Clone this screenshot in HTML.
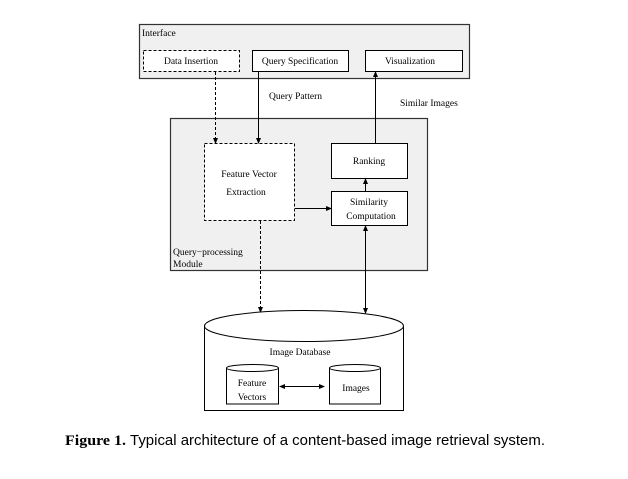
<!DOCTYPE html>
<html><head><style>body{margin:0;background:#fff}</style></head><body>
<svg width="628" height="474" xmlns="http://www.w3.org/2000/svg" font-family="Liberation Serif, serif" font-size="9.5">
<defs><marker id="a" markerWidth="6" markerHeight="6" refX="5" refY="3" orient="auto"><path d="M0,0.5 L6,3 L0,5.5z" fill="#000"/></marker>
<marker id="b" markerWidth="6" markerHeight="6" refX="1" refY="3" orient="auto"><path d="M6,0.5 L0,3 L6,5.5z" fill="#000"/></marker></defs>
<rect x="139.5" y="24.5" width="330" height="54" fill="#f0f0f0" stroke="#333" stroke-width="1.2"/>
<text x="142" y="36">Interface</text>
<rect x="143.5" y="50.5" width="96" height="21" fill="#fff" stroke="#000" stroke-dasharray="3,2"/>
<text x="191" y="64" text-anchor="middle">Data Insertion</text>
<rect x="252.5" y="50.5" width="96" height="21" fill="#fff" stroke="#000"/>
<text x="300" y="64" text-anchor="middle">Query Specification</text>
<rect x="365.5" y="50.5" width="97" height="21" fill="#fff" stroke="#000"/>
<text x="410" y="64" text-anchor="middle">Visualization</text>
<text x="269" y="99">Query Pattern</text>
<text x="400" y="106">Similar Images</text>
<rect x="170.5" y="118.5" width="257" height="152" fill="#f0f0f0" stroke="#333" stroke-width="1.2"/>
<text x="173" y="255">Query−processing</text>
<text x="173" y="267">Module</text>
<rect x="204.5" y="143.5" width="90" height="77" fill="#fff" stroke="#000" stroke-dasharray="3,2"/>
<text x="249" y="177" text-anchor="middle">Feature Vector</text>
<text x="246" y="195" text-anchor="middle">Extraction</text>
<rect x="331.5" y="143.5" width="76" height="35" fill="#fff" stroke="#000"/>
<text x="369" y="164" text-anchor="middle">Ranking</text>
<rect x="331.5" y="191.5" width="76" height="34" fill="#fff" stroke="#000"/>
<text x="369" y="205" text-anchor="middle">Similarity</text>
<text x="371" y="219" text-anchor="middle">Computation</text>
<line x1="215.5" y1="72" x2="215.5" y2="143" stroke="#000" stroke-dasharray="3,2" marker-end="url(#a)"/>
<line x1="258.5" y1="72" x2="258.5" y2="143" stroke="#000" marker-end="url(#a)"/>
<line x1="375.5" y1="143" x2="375.5" y2="72" stroke="#000" marker-end="url(#a)"/>
<line x1="295" y1="208.5" x2="331" y2="208.5" stroke="#000" marker-end="url(#a)"/>
<line x1="365.5" y1="191" x2="365.5" y2="179" stroke="#000" marker-end="url(#a)"/>
<line x1="260.5" y1="221" x2="260.5" y2="312" stroke="#000" stroke-dasharray="3,2" marker-end="url(#a)"/>
<line x1="365.5" y1="226" x2="365.5" y2="313" stroke="#000" marker-start="url(#b)" marker-end="url(#a)"/>
<path d="M204.5,326 L204.5,410.5 L403.5,410.5 L403.5,326" fill="#fff" stroke="#000"/>
<ellipse cx="304" cy="326" rx="99.5" ry="15.5" fill="#fff" stroke="#000"/>
<text x="300" y="355" text-anchor="middle">Image Database</text>
<path d="M226.5,368 L226.5,404 L278.5,404 L278.5,368" fill="#fff" stroke="#000"/>
<ellipse cx="252.5" cy="368" rx="26" ry="3.5" fill="#fff" stroke="#000"/>
<text x="252" y="386" text-anchor="middle">Feature</text>
<text x="252" y="400" text-anchor="middle">Vectors</text>
<path d="M329.5,368 L329.5,404 L380.5,404 L380.5,368" fill="#fff" stroke="#000"/>
<ellipse cx="355" cy="368" rx="25.5" ry="3.5" fill="#fff" stroke="#000"/>
<text x="356" y="391" text-anchor="middle">Images</text>
<line x1="280" y1="386.5" x2="324" y2="386.5" stroke="#000" marker-start="url(#b)" marker-end="url(#a)"/>
<text x="65" y="445" font-size="14.5" font-weight="bold" textLength="61" lengthAdjust="spacingAndGlyphs">Figure 1.</text>
<text x="130" y="445" font-size="14.5" font-family="Liberation Sans, sans-serif" textLength="415" lengthAdjust="spacingAndGlyphs">Typical architecture of a content-based image retrieval system.</text>
</svg>
</body></html>
